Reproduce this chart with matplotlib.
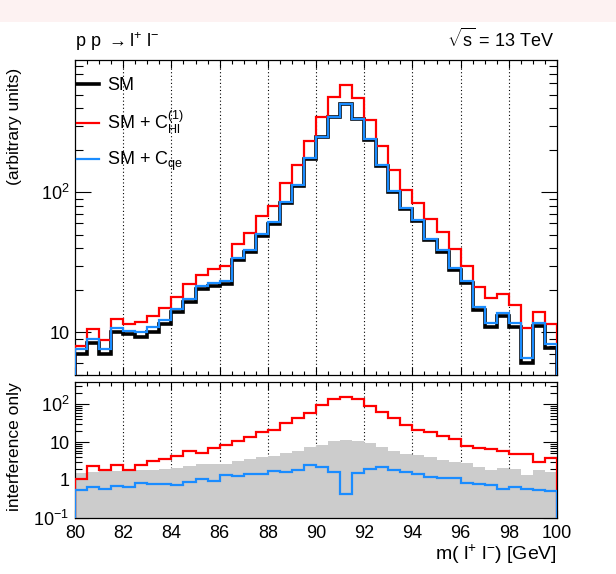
import numpy as np
import matplotlib
matplotlib.use("Agg")
import matplotlib.pyplot as plt
from matplotlib.patches import Rectangle
from matplotlib.ticker import FixedLocator, NullFormatter, MultipleLocator

plt.rcParams['font.family'] = ['Liberation Sans', 'DejaVu Sans']
plt.rcParams['mathtext.fontset'] = 'custom'
plt.rcParams['mathtext.rm'] = 'Liberation Sans'
plt.rcParams['mathtext.it'] = 'Liberation Sans:italic'
plt.rcParams['mathtext.bf'] = 'Liberation Sans:bold'

# ---------------- data ----------------
edges = np.arange(80.0, 100.0001, 0.5)

sm = [7.0, 8.34, 7.0, 10.0, 9.7, 9.3, 10.1, 11.4, 13.9, 16.5,
      20.5, 21.5, 22.0, 32.8, 37.6, 48.7, 59.4, 83.3, 111, 173,
      248, 343, 427, 332, 237, 154, 100, 76, 62.4, 45.6,
      37.6, 27.9, 22.4, 14.4, 10.9, 13.1, 10.9, 6.0, 11.1, 7.7]

sm_chl = [8.0, 10.6, 8.8, 12.4, 11.4, 11.9, 13.1, 15.0, 18.0, 22.2,
          25.5, 28.3, 29.9, 43.0, 51.5, 68.0, 80.2, 117, 157, 234,
          345, 482, 587, 469, 327, 216, 144, 104, 83.4, 64.4,
          51.8, 39.4, 29.9, 21.0, 17.5, 18.8, 15.7, 10.8, 13.9, 11.5]

sm_cqe = [7.6, 9.0, 7.6, 10.7, 10.3, 10.1, 10.9, 12.2, 14.6, 17.4,
          21.5, 22.5, 23.3, 34.1, 39.0, 50.2, 61.1, 85.0, 113, 175,
          250, 345, 427.5, 334, 239, 156, 102, 77.5, 63.8, 46.8,
          38.8, 29.0, 23.2, 15.2, 11.7, 13.7, 11.6, 6.6, 11.6, 8.2]

int_chl = [1.08, 2.28, 1.79, 2.44, 1.79, 2.53, 3.09, 3.64, 4.19, 5.90,
           5.13, 6.79, 8.49, 10.6, 13.5, 19.0, 21.0, 32.9, 44.5, 60.3,
           95.9, 141, 159, 135, 92, 64, 42.7, 27.9, 20.6, 19.0,
           14.3, 12.0, 8.0, 6.94, 6.66, 5.90, 4.82, 4.82, 3.03, 3.87]

int_cqe = [0.556, 0.640, 0.578, 0.708, 0.640, 0.832, 0.783, 0.783, 0.737, 0.867,
           1.06, 0.96, 1.32, 1.25, 1.44, 1.46, 1.72, 1.65, 1.87, 2.48,
           2.24, 1.59, 0.428, 1.52, 1.95, 2.19, 1.83, 1.62, 1.44, 1.20,
           1.15, 1.13, 0.849, 0.80, 0.752, 0.578, 0.653, 0.578, 0.533, 0.502]

int_band = [1.50, 1.62, 1.69, 1.76, 1.69, 1.79, 1.87, 1.95, 2.07, 2.28,
            2.63, 2.68, 2.68, 3.22, 3.64, 4.02, 4.36, 5.13, 5.90, 7.22,
            8.49, 10.4, 11.7, 10.6, 9.20, 7.22, 5.66, 4.82, 4.58, 4.02,
            3.42, 2.97, 2.80, 2.19, 1.87, 2.02, 2.0, 1.36, 1.83, 1.59]

xticks = [80, 82, 84, 86, 88, 90, 92, 94, 96, 98, 100]
grid_x = [82, 84, 86, 88, 90, 92, 94, 96, 98]
top_yticks = [10, 100]
top_ylabels = ["10", "$10^{2}$"]
bot_yticks = [0.1, 1, 10, 100]
bot_ylabels = ["$10^{-1}$", "1", "10", "$10^{2}$"]

RED = '#ff0000'
BLUE = '#1a8cff'
GRAY = '#cccccc'

# ---------------- figure ----------------
W, H = 616, 574
fig = plt.figure(figsize=(W / 100, H / 100), dpi=100)

# partially visible title band
fig.patches.append(Rectangle((0, 1 - 22 / H), 1, 22 / H, transform=fig.transFigure,
                             facecolor='#fdf2f2', edgecolor='none', zorder=0))

def px_axes(l, t, r, b):
    return fig.add_axes([l / W, 1 - b / H, (r - l) / W, (b - t) / H])

ax1 = px_axes(75, 59.5, 557, 374.5)
ax2 = px_axes(75, 382, 557, 517.7)

for ax in (ax1, ax2):
    ax.set_xlim(80, 100)
    ax.set_yscale('log')
    for gx in grid_x:
        ax.axvline(gx, color='black', lw=0.8, ls=(0, (1, 2.2)), zorder=1)
    ax.xaxis.set_major_locator(FixedLocator(xticks))
    ax.xaxis.set_minor_locator(MultipleLocator(0.5))
    ax.tick_params(which='both', direction='in', top=True, right=True)
    ax.tick_params(axis='x', which='major', length=6, width=0.8)
    ax.tick_params(axis='x', which='minor', length=3, width=0.8)
    for s in ax.spines.values():
        s.set_linewidth(0.9)

# top panel
ymin1, ymax1 = 5.0, 890
ax1.set_ylim(ymin1, ymax1)
ax1.stairs(sm, edges, baseline=ymin1, color='black', lw=2.6, zorder=3, label='SM')
ax1.stairs(sm_chl, edges, baseline=ymin1, color=RED, lw=1.6, zorder=4,
           label=r'SM + C$_{\mathrm{Hl}}^{\mathrm{(1)}}$')
ax1.stairs(sm_cqe, edges, baseline=ymin1, color=BLUE, lw=1.6, zorder=5,
           label=r'SM + C$_{\mathrm{qe}}$')
ax1.set_yticks(top_yticks, top_ylabels)
ax1.tick_params(axis='y', which='major', length=11.5, width=0.8, labelsize=13, pad=4)
ax1.tick_params(axis='y', which='minor', length=6, width=0.8)
ax1.yaxis.set_minor_formatter(NullFormatter())
ax1.tick_params(axis='x', labelbottom=False)
ax1.set_ylabel('(arbitrary units)', fontsize=12.5, loc='top')
ax1.yaxis.set_label_coords(-0.11, 0.973)

leg = ax1.legend(loc='upper left', bbox_to_anchor=(0.004, 0.944), frameon=False,
                 fontsize=13, handlelength=1.25, handletextpad=0.4,
                 labelspacing=0.8, borderpad=0, borderaxespad=0)

ax1.text(0.0, 1.04, r'p p $\rightarrow$l$^{+}$ l$^{-}$', transform=ax1.transAxes,
         ha='left', va='baseline', fontsize=13)
ax1.text(0.995, 1.04, r'$\sqrt{\mathrm{s}}$ = 13 TeV', transform=ax1.transAxes,
         ha='right', va='baseline', fontsize=13)

# bottom panel
ymin2, ymax2 = 0.1, 390
ax2.set_ylim(ymin2, ymax2)
ax2.stairs(int_band, edges, baseline=ymin2, fill=True, color=GRAY, lw=0, zorder=2)
ax2.stairs(int_chl, edges, baseline=ymin2, color=RED, lw=1.6, zorder=4)
ax2.stairs(int_cqe, edges, baseline=ymin2, color=BLUE, lw=1.6, zorder=5)
ax2.set_yticks(bot_yticks, bot_ylabels)
ax2.tick_params(axis='y', which='major', length=10, width=0.8, labelsize=13, pad=4)
ax2.tick_params(axis='y', which='minor', length=5, width=0.8)
ax2.yaxis.set_minor_formatter(NullFormatter())
ax2.tick_params(axis='x', labelsize=13, pad=5)
ax2.set_ylabel('interference only', fontsize=12.5, loc='top')
ax2.yaxis.set_label_coords(-0.11, 1.0)
ax2.set_xlabel(r'm( l$^{+}$ l$^{-}$) [GeV]', fontsize=14, loc='right', labelpad=1)

fig.savefig('out.png', dpi=100)
